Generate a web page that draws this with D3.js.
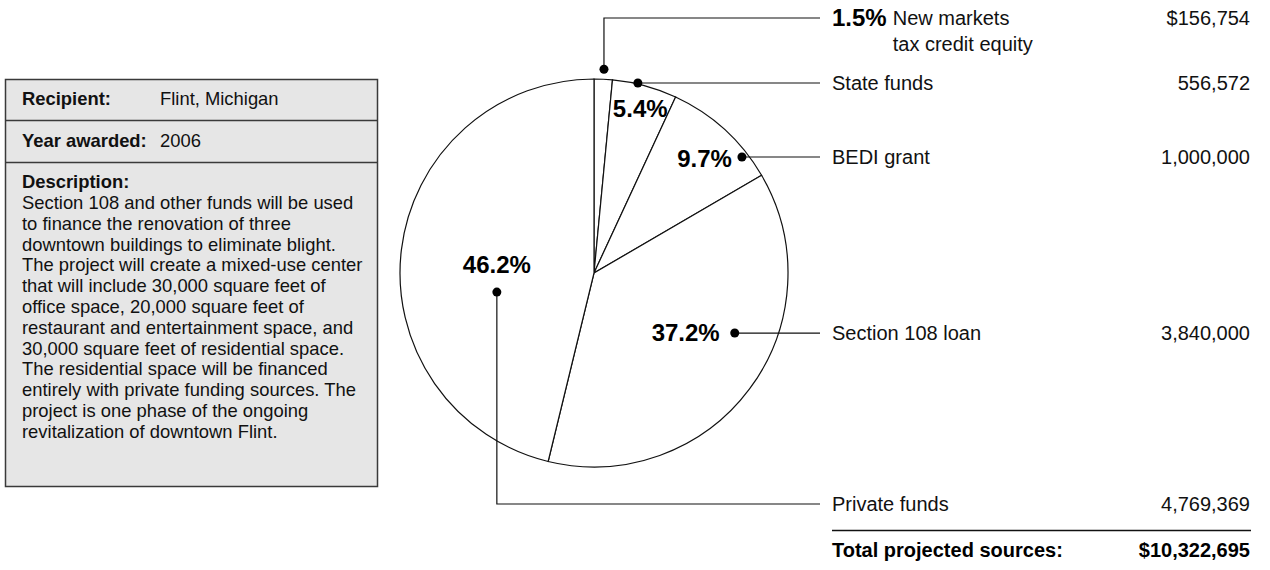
<!DOCTYPE html>
<html>
<head>
<meta charset="utf-8">
<script src="https://cdn.jsdelivr.net/npm/d3@7"></script>
<style>
  html, body { margin: 0; padding: 0; background: #fff; }
  svg { display: block; font-family: "Liberation Sans", Arial, Helvetica, sans-serif; }
</style>
</head>
<body>
<svg id="chart" width="1270" height="570"></svg>
<script>
// ---- data ----
const categories = ["New markets|tax credit equity", "State funds", "BEDI grant", "Section 108 loan", "Private funds"];
const values = [156754, 556572, 1000000, 3840000, 4769369];
const percentLabels = ["1.5%", "5.4%", "9.7%", "37.2%", "46.2%"];
const totalLabel = "Total projected sources:";

const infoLabels = ["Recipient:", "Year awarded:"];
const infoValues = ["Flint, Michigan", "2006"];
const descriptionTitle = "Description:";
const descriptionLines = [
  "Section 108 and other funds will be used",
  "to finance the renovation of three",
  "downtown buildings to eliminate blight.",
  "The project will create a mixed-use center",
  "that will include 30,000 square feet of",
  "office space, 20,000 square feet of",
  "restaurant and entertainment space, and",
  "30,000 square feet of residential space.",
  "The residential space will be financed",
  "entirely with private funding sources. The",
  "project is one phase of the ongoing",
  "revitalization of downtown Flint."
];

// ---- layout (annotation placement, not data) ----
const cx = 594, cy = 273, R = 194;
const dotPolar = [ // degrees clockwise from top, radius
  [2.8, 204], [13.0, 195], [51.9, 188], [113.1, 153], [258.9, 99]
];
const rowY = [18, null, null, null, 504]; // null = use dot y
const pctPlace = [ // anchor, dx, dy relative to dot (null for row label)
  null, ["start", -25, 34], ["end", -10, 10], ["end", -15, 8], ["middle", 0, -19]
];
const leaderEndX = 820, labelX = 832, valueX = 1250;
const bodySize = 18.4, pctSize = 24;

const svg = d3.select("#chart");
const fmt = d3.format(",");

// ---- info box ----
const box = svg.append("g");
box.append("rect").attr("x", 5.5).attr("y", 79.5).attr("width", 372).attr("height", 407)
  .attr("fill", "#e6e6e6").attr("stroke", "#3a3a3a").attr("stroke-width", 1.5);
[120.5, 162.5].forEach(y => box.append("line").attr("x1", 5.5).attr("x2", 377.5)
  .attr("y1", y).attr("y2", y).attr("stroke", "#3a3a3a").attr("stroke-width", 1.5));
const infoBase = [105, 147];
infoLabels.forEach((t, i) => {
  box.append("text").attr("x", 22).attr("y", infoBase[i]).attr("font-size", bodySize)
    .attr("font-weight", "bold").attr("fill", "#111").text(t);
  box.append("text").attr("x", 160).attr("y", infoBase[i]).attr("font-size", bodySize)
    .attr("fill", "#111").text(infoValues[i]);
});
box.append("text").attr("x", 22).attr("y", 188).attr("font-size", bodySize)
  .attr("font-weight", "bold").attr("fill", "#111").text(descriptionTitle);
box.append("g").selectAll("text").data(descriptionLines).join("text")
  .attr("x", 22).attr("y", (d, i) => 209 + i * 20.8).attr("font-size", bodySize)
  .attr("fill", "#111").text(d => d);

// ---- pie ----
const pie = d3.pie().sort(null).value(d => d);
const arcs = pie(values);
const arc = d3.arc().innerRadius(0).outerRadius(R);
const g = svg.append("g").attr("transform", `translate(${cx},${cy})`);
g.selectAll("path").data(arcs).join("path")
  .attr("d", arc).attr("fill", "#fff").attr("stroke", "#111").attr("stroke-width", 1.2);

// ---- annotations ----
const ann = svg.append("g");
const total = d3.sum(values);
arcs.forEach((a, i) => {
  const [px, py] = d3.pointRadial(dotPolar[i][0] * Math.PI / 180, dotPolar[i][1]);
  const dx = cx + px, dy = cy + py;
  const ry = rowY[i] == null ? dy : rowY[i];
  const pts = (ry === dy) ? [[dx, dy], [leaderEndX, dy]] : [[dx, dy], [dx, ry], [leaderEndX, ry]];
  ann.append("path").attr("d", d3.line()(pts)).attr("fill", "none")
    .attr("stroke", "#111").attr("stroke-width", 1.2);
  ann.append("circle").attr("cx", dx).attr("cy", dy).attr("r", 4.5).attr("fill", "#000");

  const lines = categories[i].split("|");
  let tx = labelX;
  if (pctPlace[i] == null) {
    const pt = ann.append("text").attr("x", labelX).attr("y", ry).attr("dy", "0.35em")
      .attr("font-size", pctSize).attr("font-weight", "bold").attr("fill", "#000").text(percentLabels[i]);
    tx = labelX + pt.node().getComputedTextLength() + 6;
  } else {
    const [anchor, ox, oy] = pctPlace[i];
    ann.append("text").attr("x", dx + ox).attr("y", dy + oy).attr("text-anchor", anchor)
      .attr("font-size", pctSize).attr("font-weight", "bold").attr("fill", "#000").text(percentLabels[i]);
  }
  lines.forEach((l, j) => {
    ann.append("text").attr("x", tx).attr("y", ry + j * 26).attr("dy", "0.35em")
      .attr("font-size", 20).attr("fill", "#111").text(l);
  });
  ann.append("text").attr("x", valueX).attr("y", ry).attr("dy", "0.35em")
    .attr("text-anchor", "end").attr("font-size", 20).attr("fill", "#111")
    .text((i === 0 ? "$" : "") + fmt(values[i]));
});

// ---- total ----
ann.append("line").attr("x1", labelX).attr("x2", valueX + 1).attr("y1", 530.5).attr("y2", 530.5)
  .attr("stroke", "#111").attr("stroke-width", 1.5);
ann.append("text").attr("x", labelX).attr("y", 557).attr("font-size", 20)
  .attr("font-weight", "bold").attr("fill", "#000").text(totalLabel);
ann.append("text").attr("x", valueX).attr("y", 557).attr("text-anchor", "end").attr("font-size", 20)
  .attr("font-weight", "bold").attr("fill", "#000").text("$" + fmt(total));
</script>
</body>
</html>
